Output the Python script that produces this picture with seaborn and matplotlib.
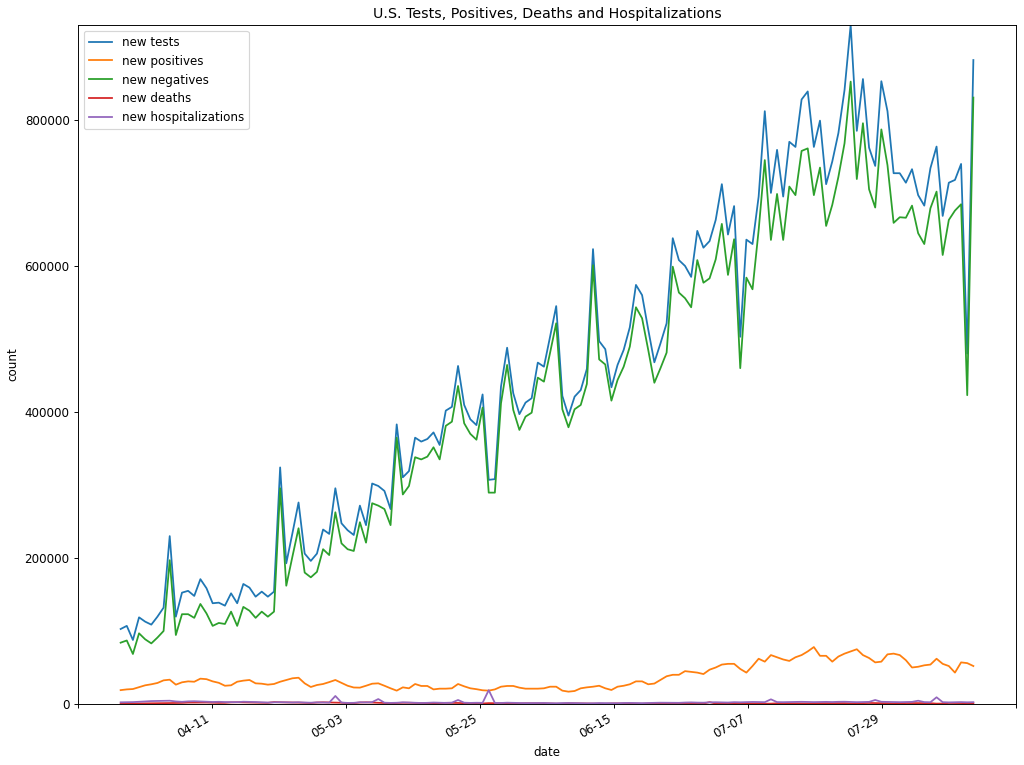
import pandas as pd
import numpy as np
import matplotlib
matplotlib.use("Agg")
from matplotlib import pyplot as plt
from matplotlib import ticker
import seaborn as sns

# daily US figures, 2020-03-27 .. 2020-08-13
dates = pd.date_range("2020-03-27", "2020-08-13").strftime("%m-%d").tolist()

new_tests = [
    102700, 107000, 87700, 118700, 112800, 108700, 119600, 132000, 230000, 119600,
    152500, 155000, 148000, 171000, 158500, 138000, 138800, 134700, 151600, 138000,
    164400, 159400, 147000, 153900, 147000, 153900, 324000, 192700, 233800, 276000,
    206000, 196000, 206000, 239000, 233000, 295500, 247500, 238000, 231500, 271700,
    245000, 302000, 298600, 291800, 267000, 383000, 310500, 319000, 364800, 359400,
    363000, 372000, 354800, 401800, 407000, 463000, 409600, 390000, 382000, 424000,
    307000, 308000, 434700, 488000, 425600, 397000, 412800, 418800, 467600, 462000,
    503000, 545000, 422000, 395000, 421000, 430000, 459000, 623000, 497000, 486000,
    433800, 464400, 485000, 516000, 574000, 560000, 513000, 468000, 494000, 521500,
    638000, 608000, 600000, 585000, 648000, 625000, 634000, 663000, 712000, 643000,
    682000, 503000, 636000, 630000, 695000, 812000, 700000, 759000, 695000, 770000,
    763000, 828000, 839000, 763000, 799000, 712000, 743000, 782000, 841000, 930000,
    785000, 856000, 762000, 737000, 853000, 812000, 727000, 727000, 714000, 732500,
    697000, 682600, 733900, 763500, 668500, 714000, 717800, 739700, 480000, 882000,
]

new_positives = [
    19000, 20000, 20500, 23000, 25600, 27000, 28800, 32400, 33300, 26500,
    29700, 31000, 30500, 34700, 34000, 31000, 29000, 25000, 25600, 30500,
    32000, 32900, 28300, 27800, 26500, 27400, 30500, 32900, 35200, 36000,
    28300, 23300, 26000, 27400, 30000, 32900, 29000, 25000, 22600, 22400,
    25000, 27800, 28300, 25000, 21500, 18300, 22800, 21500, 27400, 24700,
    24700, 20000, 21000, 21000, 21500, 27400, 24200, 21500, 20300, 18800,
    18300, 20000, 23700, 24700, 24700, 22400, 21000, 21000, 21000, 21500,
    23700, 23700, 18300, 16900, 17800, 21500, 22800, 23700, 25000, 21500,
    19200, 23700, 25000, 27000, 31000, 31000, 27000, 28000, 33000, 38000,
    40000, 40000, 45000, 44000, 43000, 41000, 47000, 50000, 54000, 55000,
    55000, 48000, 43000, 52000, 62000, 58000, 67000, 64000, 61000, 59000,
    64000, 67000, 72000, 78000, 66000, 66000, 58000, 65000, 69000, 72000,
    75000, 67000, 63000, 57000, 58000, 68000, 69000, 67000, 60000, 50000,
    51000, 53000, 54000, 62000, 55000, 52000, 43000, 57000, 56000, 52000,
]

new_negatives = [
    84000, 87000, 68500, 96800, 88600, 83000, 91000, 100000, 197000, 94500,
    123000, 123000, 118000, 137000, 124000, 107000, 111000, 109600, 126500, 107000,
    133000, 127800, 118000, 126500, 119600, 126500, 295500, 162000, 201800, 240700,
    180000, 173500, 181000, 212000, 204000, 262600, 220000, 212000, 209600, 249000,
    221000, 275000, 271700, 267000, 245000, 364800, 287000, 298600, 338000, 335000,
    338800, 351600, 335000, 381000, 386700, 435600, 384500, 370000, 362000, 406000,
    289500, 289500, 411800, 464400, 402800, 375400, 393600, 399000, 447000, 441500,
    481000, 521500, 403700, 379000, 403700, 409600, 438400, 601000, 472000, 465000,
    415500, 443800, 462000, 489500, 543400, 528300, 485000, 440000, 460000, 481300,
    599000, 563500, 555800, 543400, 608000, 577000, 583000, 609000, 657600, 587700,
    636600, 460000, 584000, 568000, 649000, 745000, 635600, 698600, 635600, 708700,
    697000, 757500, 761000, 697000, 734700, 654800, 683600, 722000, 768000, 852500,
    719000, 795500, 705000, 680000, 787000, 738000, 659000, 666700, 666000, 682600,
    644800, 630000, 679000, 701800, 615000, 663000, 675800, 684500, 423000, 830600,
]

new_deaths = [
    400, 500, 500, 600, 900, 1000, 1100, 1200, 1300, 1300,
    1500, 1900, 1900, 2000, 2000, 1700, 1500, 1600, 2200, 2400,
    2200, 2100, 1900, 1700, 1600, 2600, 2300, 2200, 2000, 1900,
    1600, 1400, 2000, 2300, 2100, 1900, 1700, 1300, 1200, 2000,
    2300, 2000, 1700, 1400, 1000, 1300, 1700, 1700, 1500, 1400,
    1000, 800, 1300, 1600, 1500, 1400, 1100, 700, 600, 700,
    1200, 1100, 1200, 1000, 700, 600, 1000, 1000, 900, 800,
    700, 400, 400, 1000, 900, 700, 800, 600, 400, 300,
    700, 800, 700, 700, 500, 300, 600, 800, 700, 600,
    600, 300, 300, 700, 700, 600, 2500, 600, 300, 300,
    700, 900, 900, 800, 700, 400, 500, 900, 1000, 1000,
    900, 800, 600, 500, 1100, 1100, 1100, 1200, 1200, 700,
    500, 1200, 1400, 1200, 1100, 1100, 400, 600, 1300, 1300,
    1200, 1100, 1100, 500, 600, 1400, 1400, 1300, 1000, 1200,
]

new_hospitalizations = [
    2300, 2400, 2600, 3000, 3500, 4000, 4200, 4400, 4500, 3500,
    3000, 3600, 3800, 3500, 3200, 2800, 3000, 2700, 2600, 2500,
    3100, 2900, 2700, 2300, 2000, 2200, 2500, 2300, 2100, 2400,
    2000, 1800, 2200, 2000, 1900, 11000, 2000, 1500, 1600, 2400,
    2100, 2600, 6800, 1800, 1500, 1700, 2300, 2000, 1800, 1400,
    1600, 2000, 1800, 1500, 1900, 5500, 1800, 1500, 1700, 1600,
    19000, 1500, 1400, 1800, 1600, 1400, 1200, 1300, 1500, 1400,
    1100, 1000, 1300, 1400, 1200, 1100, 900, 1000, 1300, 1200,
    1100, 1000, 1400, 1500, 1300, 1200, 1400, 1600, 1800, 1700,
    1500, 1600, 2000, 2200, 1900, 1800, 2300, 2400, 2200, 2000,
    2500, 2300, 2600, 2800, 2700, 2500, 6400, 2600, 2500, 2700,
    2900, 3000, 2800, 2600, 2800, 2900, 2700, 3000, 3100, 2800,
    2500, 2700, 2900, 5500, 3000, 2800, 2600, 2500, 2700, 2900,
    4500, 2600, 2400, 9200, 2500, 2200, 2400, 2600, 2300, 2500,
]

series = [
    ("new tests", new_tests, "C0"),
    ("new positives", new_positives, "C1"),
    ("new negatives", new_negatives, "C2"),
    ("new deaths", new_deaths, "C3"),
    ("new hospitalizations", new_hospitalizations, "C4"),
]

# 12 inch wide figure saved at ~85 dpi -> 1024 x 765 px
dpi = 1024 / 12
fig, ax = plt.subplots(figsize=(12, 765 / dpi), dpi=dpi)

for label, values, color in series:
    sns.lineplot(x=dates, y=values, label=label, color=color,
                 estimator=None, sort=False, ax=ax)

ax.set_ylim(0, max(new_tests))
ax.xaxis.set_major_locator(ticker.LinearLocator(8))
plt.setp(ax.get_xticklabels(), rotation=30, ha="right")

ax.set_xlabel("date")
ax.set_ylabel("count")
ax.set_title("U.S. Tests, Positives, Deaths and Hospitalizations")
ax.legend(loc="upper left")

fig.subplots_adjust(left=78 / 1024, right=1016 / 1024, top=1 - 25 / 765, bottom=1 - 704 / 765)
plt.savefig("out.png", dpi=dpi)
